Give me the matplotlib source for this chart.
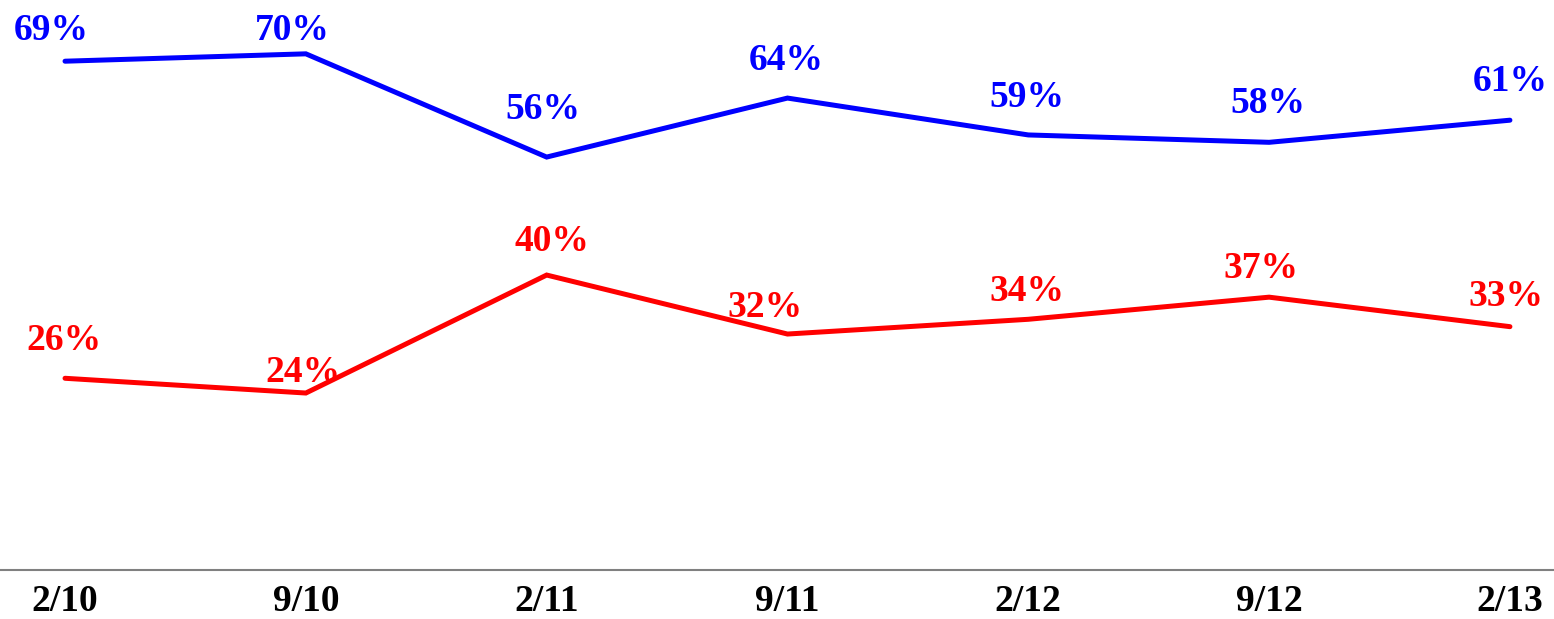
import matplotlib
matplotlib.use("Agg")
import matplotlib.pyplot as plt

# Data
periods = ["2/10", "9/10", "2/11", "9/11", "2/12", "9/12", "2/13"]
blue_vals = [69, 70, 56, 64, 59, 58, 61]
red_vals = [26, 24, 40, 32, 34, 37, 33]

# label offsets in points (x, y) relative to each point
blue_offsets = [(-10, 22), (-10, 17), (-3, 34), (-1, 27), (-1, 27), (-1, 28), (0, 28)]
red_offsets = [(-1, 27), (-2, 15), (4, 24), (-16, 19), (-1, 20), (-6, 21), (-3, 22)]

plt.rcParams["font.family"] = ["Liberation Serif", "DejaVu Serif"]
plt.rcParams["font.weight"] = "bold"

fig = plt.figure(figsize=(15.54, 6.19), dpi=100)
ax = fig.add_axes([0, 49 / 619, 1, 570 / 619])

x = list(range(len(periods)))
ax.plot(x, blue_vals, color="#0000ff", linewidth=3.6, solid_capstyle="round",
        solid_joinstyle="miter", clip_on=False)
ax.plot(x, red_vals, color="#ff0000", linewidth=3.6, solid_capstyle="round",
        solid_joinstyle="miter", clip_on=False)

for xi, v, off in zip(x, blue_vals, blue_offsets):
    ax.annotate(f"{v}%", (xi, v), xytext=off, textcoords="offset points",
                ha="center", va="center", color="#0000ff", fontsize=27, fontweight="bold")
for xi, v, off in zip(x, red_vals, red_offsets):
    ax.annotate(f"{v}%", (xi, v), xytext=off, textcoords="offset points",
                ha="center", va="center", color="#ff0000", fontsize=27, fontweight="bold")

ax.set_xlim(-0.27, 6.183)
ax.set_ylim(0, 77.3)
ax.set_xticks(x)
ax.set_xticklabels(periods, fontsize=27, fontweight="bold")
ax.set_yticks([])
ax.tick_params(axis="x", length=0, pad=10)
for s in ["top", "left", "right"]:
    ax.spines[s].set_visible(False)
ax.spines["bottom"].set_color("#808080")
ax.spines["bottom"].set_linewidth(1.5)

fig.savefig("out.png", dpi=100)
